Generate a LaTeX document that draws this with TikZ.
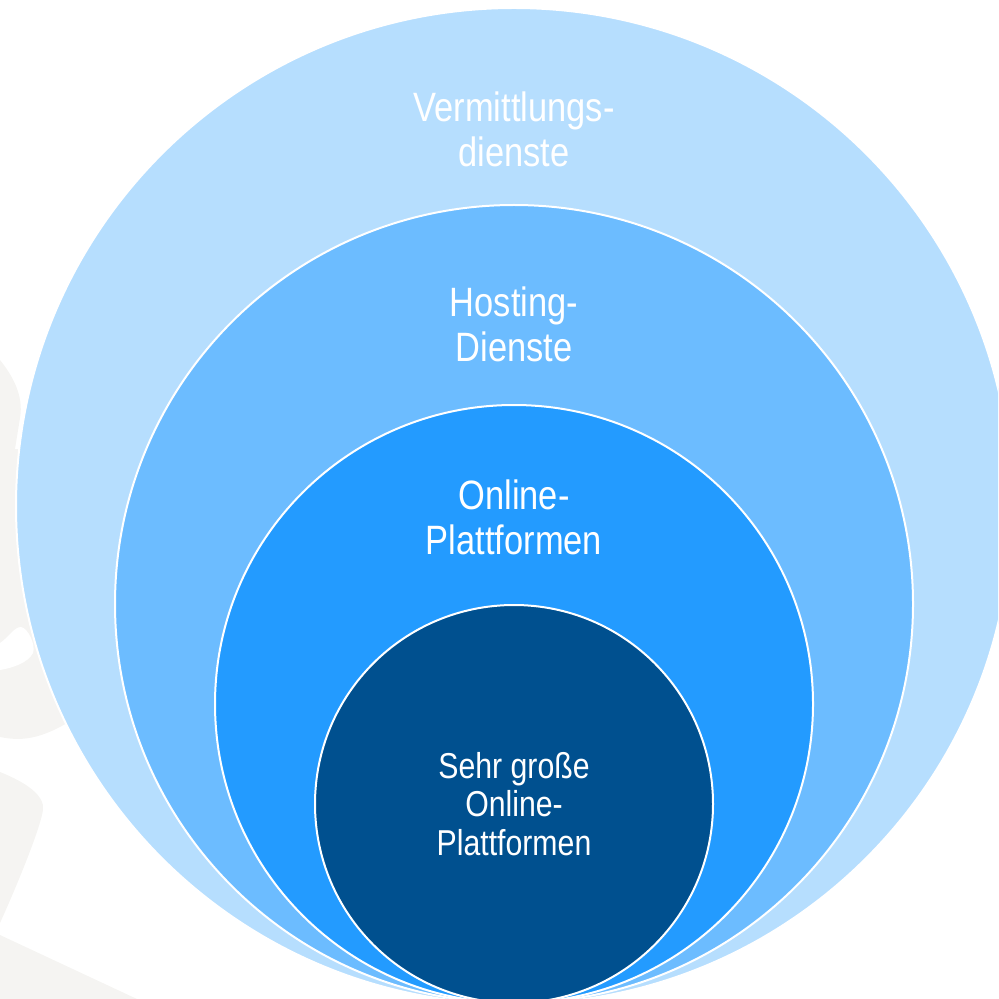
\documentclass[tikz,border=0pt]{standalone}
\usepackage{fontspec}
\setmainfont{Liberation Sans}[FakeStretch=0.84]
\usepackage{xcolor}
\usetikzlibrary{positioning}
\definecolor{RingOuter}{RGB}{182,222,254}
\definecolor{RingHost}{RGB}{108,188,255}
\definecolor{RingPlat}{RGB}{35,155,255}
\definecolor{RingVlop}{RGB}{0,80,143}
\definecolor{MarkGray}{RGB}{245,244,242}

\begin{document}
\begin{tikzpicture}[x=0.5pt, y=-0.5pt,
    ring/.style={circle, draw=white, line width=1pt, inner sep=0pt, minimum size=#1},
    lab/.style={text=white, align=center, inner sep=0pt,
                font=\fontsize{20.5}{22.5}\selectfont},
    core/.style={text=white, align=center, inner sep=0pt,
                 font=\fontsize{18}{19.2}\selectfont}
]
    \useasboundingbox (0,0) rectangle (998,999);
    \clip (0,0) rectangle (998,999);
    % faint watermark on the left
    \fill[MarkGray] (0,360) .. controls (12,375) and (24,395) .. (20,418) -- (15,449)
        -- (80,449) -- (80,715) .. controls (45,738) and (25,742) .. (0,737) -- cycle;
    \fill[white] (0,643) .. controls (8,638) and (14,627) .. (21,627)
        .. controls (28,628) and (36,645) .. (33,653) .. controls (28,663) and (12,668) .. (0,670) -- cycle;
    \fill[MarkGray] (0,772) .. controls (25,782) and (45,795) .. (43,810)
        .. controls (40,830) and (15,890) .. (0,923) -- cycle;
    \fill[MarkGray] (0,935) -- (137,999) -- (0,999) -- cycle;

    % nested rings
    \node[ring=498pt, fill=RingOuter] (verm) at (514,506) {};
    \node[ring=399pt, fill=RingHost] (host) at (514,604) {};
    \node[ring=299pt, fill=RingPlat] (plat) at (514,704) {};
    \node[ring=199pt, fill=RingVlop] (vlop) at (514,804) {};

    % labels
    \node[lab, below=42pt of verm.north] (vermlab) {Vermittlungs-\\dienste};
    \node[lab, below=41pt of host.north] (hostlab) {Hosting-\\Dienste};
    \node[lab, below=37.5pt of plat.north] (platlab) {Online-\\Plattformen};
    \node[core] (vloplab) at (vlop.center) {Sehr große\\Online-\\Plattformen};
\end{tikzpicture}
\end{document}
